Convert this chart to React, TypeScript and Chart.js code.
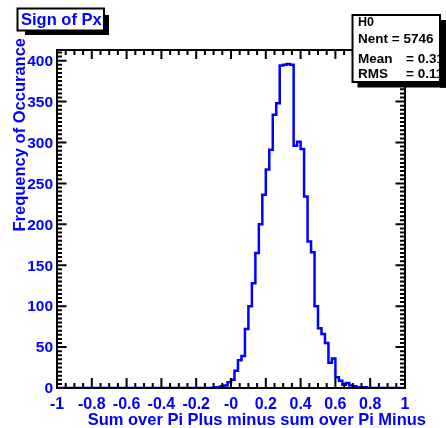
import React, { useEffect, useRef } from "react";
import { Chart, registerables } from "chart.js";

Chart.register(...registerables);

// ---- Data (histogram "Sign of Px") ----
const histTitle = "Sign of Px";
const xAxisTitle = "Sum over Pi Plus minus sum over Pi Minus";
const yAxisTitle = "Frequency of Occurance";
const xRange = [-1, 1];
const yRange = [0, 413];
const binLow = -0.1; // low edge of first listed bin
const binWidth = 0.02;
const counts = [
  1, 1, 2, 3, 7, 10, 21, 34, 39, 72, 100, 128, 165, 200, 236, 267, 291, 334, 348,
  394, 395, 396, 395, 296, 301, 292, 234, 179, 166, 100, 73, 66, 55, 31, 36, 13,
  9, 4, 6, 3, 2, 1, 1, 1,
];
const xTickValues = [-1, -0.8, -0.6, -0.4, -0.2, 0, 0.2, 0.4, 0.6, 0.8, 1];
const xTickLabels = ["-1", "-0.8", "-0.6", "-0.4", "-0.2", "-0", "0.2", "0.4", "0.6", "0.8", "1"];
const yTickValues = [0, 50, 100, 150, 200, 250, 300, 350, 400];
const yTickLabels = ["0", "50", "100", "150", "200", "250", "300", "350", "400"];
const xMinorStep = 0.05;
const yMinorStep = 5;
const statsName = "H0";
const statsLines = [
  ["Nent = 5746", ""],
  ["Mean", "= 0.3109"],
  ["RMS", "= 0.1183"],
];

const FONT = '"Liberation Sans", Arial, Helvetica, sans-serif';
const BLUE = "#0000ff";

const rootPlugin = {
  id: "rootStyle",
  beforeDraw(chart: any) {
    const { ctx, width, height } = chart;
    ctx.save();
    ctx.fillStyle = "#fff";
    ctx.fillRect(0, 0, width, height);
    ctx.restore();
  },
  afterDatasetsDraw(chart: any) {
    const { ctx, chartArea: a, scales } = chart;
    const xs = scales.x;
    const ys = scales.y;
    ctx.save();
    ctx.strokeStyle = "#000";
    ctx.lineWidth = 2;
    ctx.lineCap = "butt";
    ctx.strokeRect(a.left, a.top, a.right - a.left, a.bottom - a.top);

    // x ticks (bottom + top)
    ctx.beginPath();
    const nx = Math.round((xRange[1] - xRange[0]) / xMinorStep);
    for (let i = 0; i <= nx; i++) {
      const v = xRange[0] + i * xMinorStep;
      const px = xs.getPixelForValue(v);
      const major = i % 4 === 0;
      const lb = major ? 10 : 5;
      const lt = major ? 9 : 5;
      ctx.moveTo(px, a.bottom);
      ctx.lineTo(px, a.bottom - lb);
      ctx.moveTo(px, a.top);
      ctx.lineTo(px, a.top + lt);
    }
    // y ticks (left + right)
    const ny = Math.floor((yRange[1] - yRange[0]) / yMinorStep);
    for (let i = 0; i <= ny; i++) {
      const v = yRange[0] + i * yMinorStep;
      const py = ys.getPixelForValue(v);
      const major = i % 10 === 0;
      const l = major ? 9.5 : 5;
      ctx.moveTo(a.left, py);
      ctx.lineTo(a.left + l, py);
      ctx.moveTo(a.right, py);
      ctx.lineTo(a.right - l, py);
    }
    ctx.stroke();

    // tick labels
    ctx.fillStyle = BLUE;
    ctx.font = `bold 16px ${FONT}`;
    ctx.textAlign = "center";
    ctx.textBaseline = "alphabetic";
    xTickValues.forEach((v, i) => {
      ctx.fillText(xTickLabels[i], xs.getPixelForValue(v), 408.5);
    });
    ctx.font = `bold 15.5px ${FONT}`;
    ctx.textAlign = "right";
    ctx.textBaseline = "middle";
    yTickValues.forEach((v, i) => {
      ctx.fillText(yTickLabels[i], 53, ys.getPixelForValue(v) + 1);
    });

    // axis titles
    ctx.font = `bold 16.5px ${FONT}`;
    ctx.textAlign = "right";
    ctx.textBaseline = "alphabetic";
    ctx.fillText(xAxisTitle, 426, 425);
    ctx.save();
    ctx.translate(25, 38);
    ctx.rotate(-Math.PI / 2);
    ctx.fillText(yAxisTitle, 0, 0);
    ctx.restore();

    // title box
    ctx.fillStyle = "#000";
    ctx.fillRect(25, 30, 84, 5);
    ctx.fillRect(104, 15, 5, 20);
    ctx.fillStyle = "#fff";
    ctx.fillRect(17.5, 8.5, 86.5, 22);
    ctx.strokeStyle = "#000";
    ctx.lineWidth = 2;
    ctx.strokeRect(17.5, 8.5, 86.5, 22);
    ctx.fillStyle = BLUE;
    ctx.font = `bold 16.5px ${FONT}`;
    ctx.textAlign = "left";
    ctx.fillText(histTitle, 21, 24.5);

    // stats box
    const bx = 352.5, by = 15, bw = 87.5, bh = 67;
    ctx.fillStyle = "#000";
    ctx.fillRect(bx + 5, by + bh, bw + 5, 5.5);
    ctx.fillRect(bx + bw, by + 5, 7, bh + 0.5);
    ctx.fillStyle = "#fff";
    ctx.fillRect(bx, by, bw, bh);
    ctx.fillStyle = "#000";
    ctx.textAlign = "left";
    ctx.font = `bold 12.5px ${FONT}`;
    ctx.fillText(statsName, 358, 25.5);
    ctx.font = `bold 13.5px ${FONT}`;
    const baselines = [42.5, 63, 78];
    statsLines.forEach((ln, i) => {
      ctx.fillText(ln[0], 358, baselines[i]);
      if (ln[1]) ctx.fillText(ln[1], 406, baselines[i]);
    });
    // cover overflow with shadow on the right
    ctx.fillStyle = "#000";
    ctx.fillRect(bx + bw, by + 5, 7, bh + 0.5);
    ctx.strokeStyle = "#000";
    ctx.lineWidth = 2;
    ctx.strokeRect(bx, by, bw, bh);
    ctx.restore();
  },
};

export default function App() {
  const ref = useRef<HTMLCanvasElement>(null);
  useEffect(() => {
    const canvas = ref.current;
    if (!canvas) return;
    const points: { x: number; y: number }[] = [{ x: xRange[0], y: 0 }];
    counts.forEach((c, i) => points.push({ x: binLow + i * binWidth, y: c }));
    points.push({ x: binLow + counts.length * binWidth, y: 0 });
    points.push({ x: xRange[1], y: 0 });
    const chart = new Chart(canvas, {
      type: "line",
      data: {
        datasets: [
          {
            data: points,
            borderColor: BLUE,
            borderWidth: 2.5,
            stepped: "before",
            fill: false,
            pointRadius: 0,
            tension: 0,
          },
        ],
      },
      options: {
        animation: false,
        responsive: false,
        maintainAspectRatio: false,
        layout: { padding: { left: 57, right: 41, top: 50, bottom: 40 }, autoPadding: false },
        plugins: {
          legend: { display: false },
          title: { display: false },
          tooltip: { enabled: false },
        },
        scales: {
          x: { type: "linear", min: xRange[0], max: xRange[1], display: false },
          y: { type: "linear", min: yRange[0], max: yRange[1], display: false },
        },
      },
      plugins: [rootPlugin],
    } as any);
    return () => chart.destroy();
  }, []);
  return (
    <div style={{ position: "fixed", left: 0, top: 0, width: 446, height: 428, background: "#fff" }}>
      <canvas ref={ref} width={446} height={428} style={{ display: "block", width: 446, height: 428 }} />
    </div>
  );
}
